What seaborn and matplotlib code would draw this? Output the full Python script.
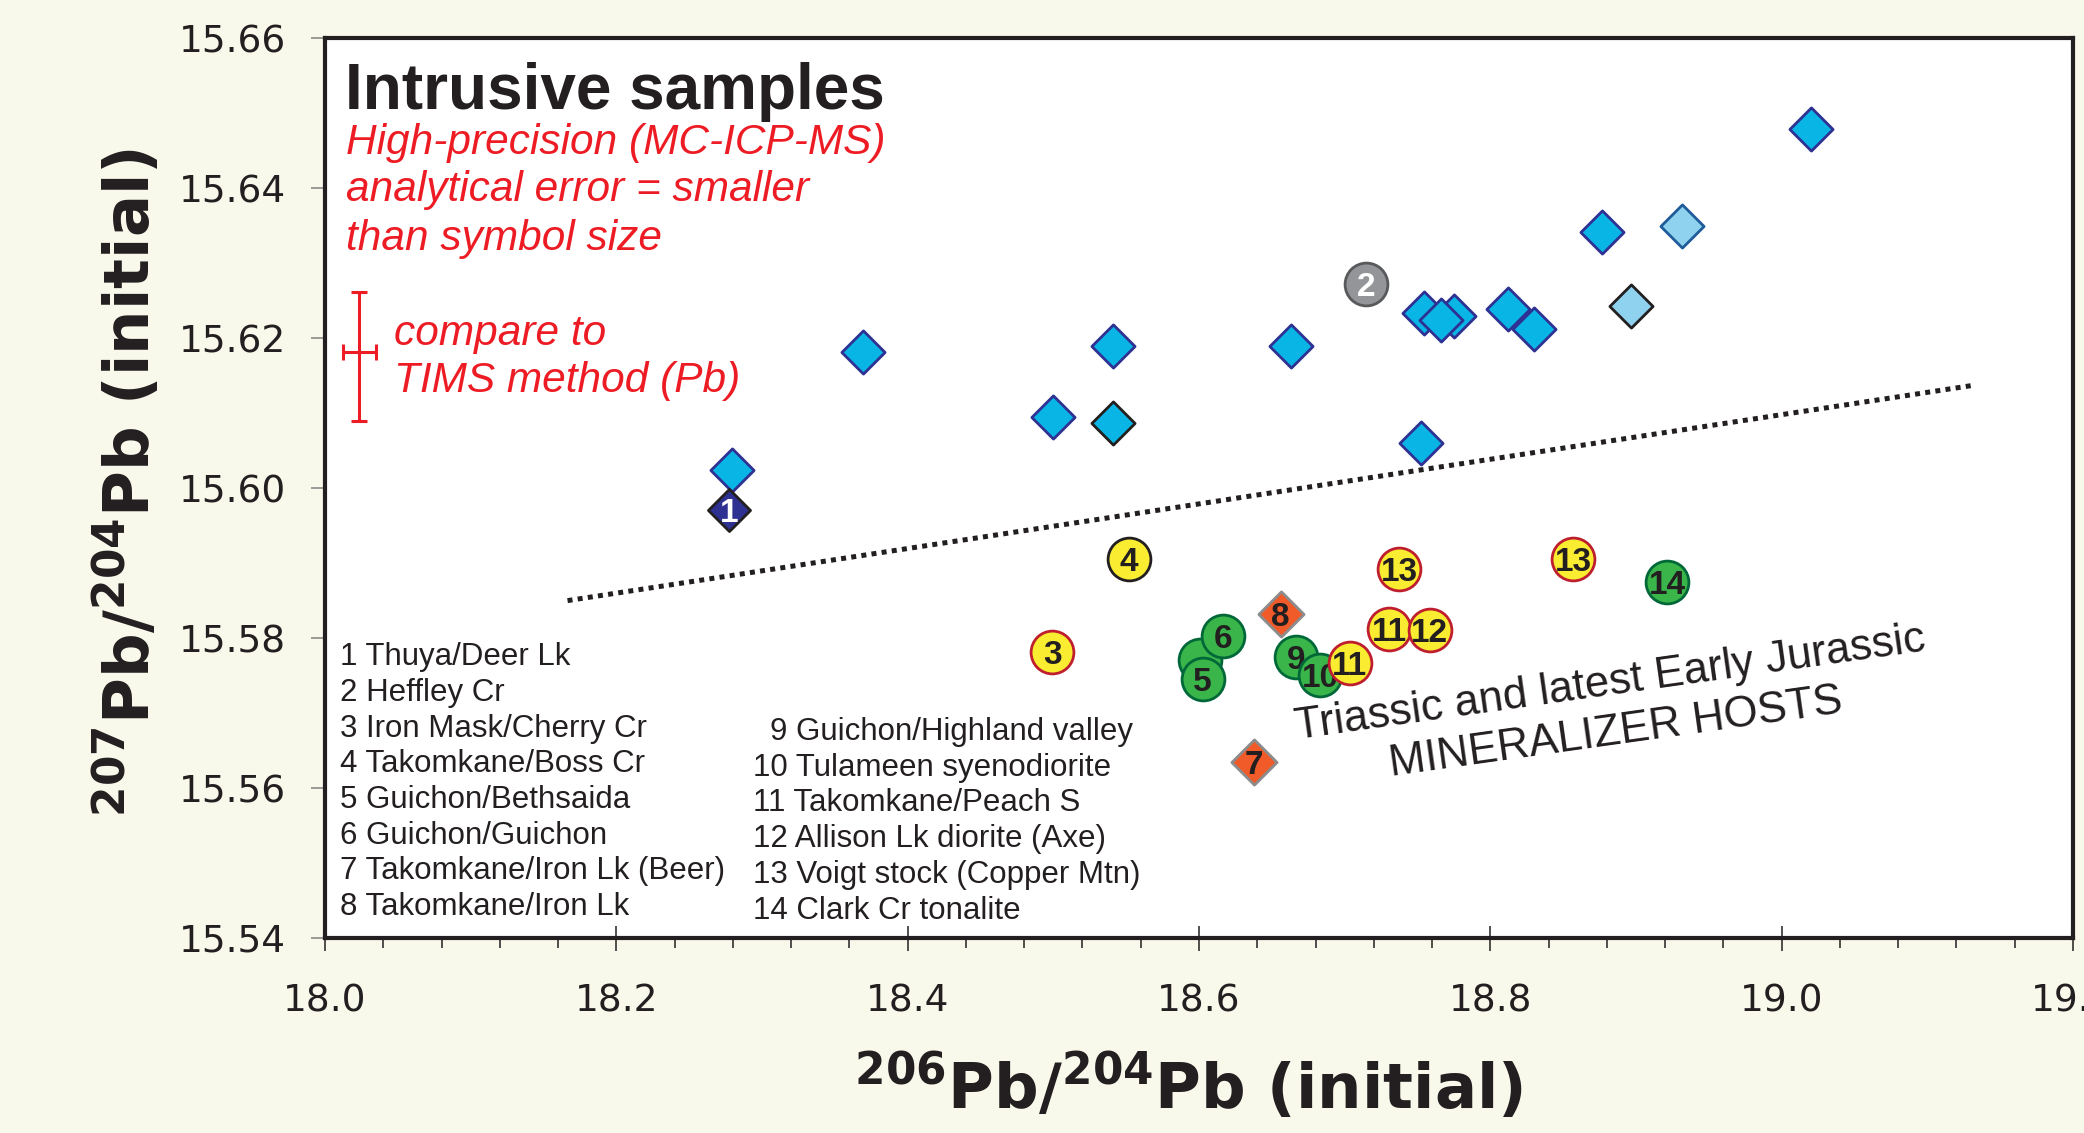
import matplotlib
matplotlib.use("Agg")
import matplotlib.pyplot as plt
import matplotlib.ticker as mticker
import seaborn as sns
import pandas as pd

# ---------------- data ----------------
x_ticks = [18.0, 18.2, 18.4, 18.6, 18.8, 19.0, 19.2]
x_tick_labels = ["18.0", "18.2", "18.4", "18.6", "18.8", "19.0", "19.2"]
y_ticks = [15.54, 15.56, 15.58, 15.60, 15.62, 15.64, 15.66]
y_tick_labels = ["15.54", "15.56", "15.58", "15.60", "15.62", "15.64", "15.66"]

# unlabeled high-precision samples (blue diamonds, dark-blue edge)
blue_x = [18.2794, 18.3690, 18.5000, 18.5412, 18.6629, 18.7522, 18.7542,
          18.7751, 18.7662, 18.8118, 18.8302, 18.8764, 19.0198]
blue_y = [15.6024, 15.6181, 15.6095, 15.6190, 15.6190, 15.6060, 15.6234,
          15.6230, 15.6224, 15.6239, 15.6212, 15.6341, 15.6479]
# blue diamond with black edge
blue_black_x = [18.5410]
blue_black_y = [15.6087]
# light-blue diamonds
light_blue_x = [18.9315]
light_blue_y = [15.6350]
light_black_x = [18.8968]
light_black_y = [15.6243]

# numbered samples (drawn in this order; the second "5" is hidden behind)
num_labels = ["1", "2", "3", "4", "", "5", "6", "8", "9", "10", "11",
              "7", "13", "11", "12", "13", "14"]
num_group = ["thuya", "heffley", "ironmask", "boss", "guichon", "guichon",
             "guichon", "ironlk", "guichon", "tulameen", "peach",
             "ironlk", "voigt", "peach", "allison", "voigt", "clark"]
num_x = [18.2771, 18.7146, 18.4993, 18.5517, 18.6010, 18.6025, 18.6163,
         18.6561, 18.6668, 18.6833, 18.7034, 18.6376, 18.7376, 18.7306,
         18.7585, 18.8569, 18.9216]
num_y = [15.5971, 15.6272, 15.5781, 15.5906, 15.5771, 15.5745, 15.5803,
         15.5832, 15.5775, 15.5751, 15.5767, 15.5635, 15.5892, 15.5812,
         15.5811, 15.5905, 15.5875]

# dividing (dotted) line
trend_x = [18.1665, 19.1310]
trend_y = [15.5850, 15.6137]

# TIMS error bar reference
tims_x = [18.0236]
tims_y = [15.6181]
tims_xerr = [0.0112]
tims_yerr_low = [0.0092]
tims_yerr_high = [0.0081]

title_text = "Intrusive samples"
note_lines = ["High-precision (MC-ICP-MS)", "analytical error = smaller",
              "than symbol size"]
compare_lines = ["compare to", "TIMS method (Pb)"]
host_lines = ["Triassic and latest Early Jurassic", "MINERALIZER HOSTS"]
legend_col1 = ["1 Thuya/Deer Lk", "2 Heffley Cr", "3 Iron Mask/Cherry Cr",
               "4 Takomkane/Boss Cr", "5 Guichon/Bethsaida",
               "6 Guichon/Guichon", "7 Takomkane/Iron Lk (Beer)",
               "8 Takomkane/Iron Lk"]
legend_col2 = ["9 Guichon/Highland valley", "10 Tulameen syenodiorite",
               "11 Takomkane/Peach S", "12 Allison Lk diorite (Axe)",
               "13 Voigt stock (Copper Mtn)", "14 Clark Cr tonalite"]
xlabel_text = r"$^{\mathbf{206}}$Pb/$^{\mathbf{204}}$Pb (initial)"
ylabel_text = r"$^{\mathbf{207}}$Pb/$^{\mathbf{204}}$Pb (initial)"

# ---------------- style ----------------
sns.set_style("ticks")
plt.rcParams["font.family"] = ["DejaVu Sans"]
plt.rcParams["mathtext.fontset"] = "dejavusans"

BG = "#F8F8EB"
INK = "#231F20"
RED = "#ED1C24"
BLUE = "#08B5E5"
DARKBLUE = "#2E3192"
LIGHTBLUE = "#8FD2F0"
YELLOW = "#F9EC31"
GREEN = "#39B54A"
ORANGE = "#F15A29"
HELV = ["Liberation Sans", "DejaVu Sans"]

styles = {
    "thuya":   dict(marker="D", s=460, fill=DARKBLUE, edge=INK, txt="white"),
    "heffley": dict(marker="o", s=950, fill="#939598", edge="#58595B", txt="white"),
    "ironmask": dict(marker="o", s=950, fill=YELLOW, edge="#BE1E2D", txt=INK),
    "boss":    dict(marker="o", s=950, fill=YELLOW, edge=INK, txt=INK),
    "guichon": dict(marker="o", s=950, fill=GREEN, edge="#006838", txt=INK),
    "tulameen": dict(marker="o", s=950, fill=GREEN, edge="#006838", txt=INK),
    "clark":   dict(marker="o", s=950, fill=GREEN, edge="#006838", txt=INK),
    "ironlk":  dict(marker="D", s=530, fill=ORANGE, edge="#8C8C8C", txt=INK),
    "peach":   dict(marker="o", s=950, fill=YELLOW, edge="#BE1E2D", txt=INK),
    "allison": dict(marker="o", s=950, fill=YELLOW, edge="#BE1E2D", txt=INK),
    "voigt":   dict(marker="o", s=950, fill=YELLOW, edge="#BE1E2D", txt=INK),
}

fig = plt.figure(figsize=(20.84, 11.33), dpi=100, facecolor=BG)
ax = fig.add_axes([0.15595, 0.17211, 0.83877, 0.79409])
ax.set_facecolor("white")

# dotted dividing line
ax.plot(trend_x, trend_y, color=INK, lw=3.6, linestyle=(0, (1.0, 1.05)),
        dash_capstyle="butt", zorder=2)

# blue diamonds
sns.scatterplot(x=blue_x, y=blue_y, marker="D", s=484, color=BLUE,
                edgecolor=DARKBLUE, linewidth=2.0, ax=ax, zorder=3, legend=False)
sns.scatterplot(x=blue_black_x, y=blue_black_y, marker="D", s=484, color=BLUE,
                edgecolor=INK, linewidth=2.0, ax=ax, zorder=3, legend=False)
sns.scatterplot(x=light_blue_x, y=light_blue_y, marker="D", s=484, color=LIGHTBLUE,
                edgecolor="#1F5C99", linewidth=2.0, ax=ax, zorder=3, legend=False)
sns.scatterplot(x=light_black_x, y=light_black_y, marker="D", s=484, color=LIGHTBLUE,
                edgecolor=INK, linewidth=2.0, ax=ax, zorder=3, legend=False)

# numbered markers
num_df = pd.DataFrame({"x": num_x, "y": num_y, "label": num_labels, "group": num_group})
for i, row in num_df.iterrows():
    st = styles[row["group"]]
    z = 4 + i * 0.1
    sns.scatterplot(x=[row["x"]], y=[row["y"]], marker=st["marker"], s=st["s"],
                    color=st["fill"], edgecolor=st["edge"], linewidth=2.0,
                    ax=ax, zorder=z, legend=False)
    if row["label"]:
        ax.text(row["x"], row["y"], row["label"], ha="center", va="center_baseline",
                fontsize=24, fontweight="bold", family=HELV, color=st["txt"],
                zorder=z + 0.05)

# TIMS error bar
ax.errorbar(tims_x, tims_y, xerr=tims_xerr, yerr=[tims_yerr_low, tims_yerr_high],
            fmt="none", ecolor=RED, elinewidth=2.2, capsize=5.5, capthick=2.2,
            zorder=3)

# axes
ax.set_xlim(18.0, 19.2)
ax.set_ylim(15.54, 15.66)
ax.set_xticks(x_ticks)
ax.set_xticklabels(x_tick_labels)
ax.xaxis.set_minor_locator(mticker.MultipleLocator(0.04))
ax.set_yticks(y_ticks)
ax.set_yticklabels(y_tick_labels)
ax.tick_params(axis="x", which="major", direction="inout", length=18, width=1.1,
               color=INK, pad=24, labelsize=27, labelcolor=INK)
ax.tick_params(axis="x", which="minor", direction="out", length=7.2, width=1.1,
               color=INK)
ax.tick_params(axis="y", which="major", direction="out", length=10, width=1.1,
               color="#808080", pad=18, labelsize=27, labelcolor=INK)
ax.tick_params(axis="y", which="minor", left=False)
for sp in ax.spines.values():
    sp.set_linewidth(3.0)
    sp.set_color(INK)
    sp.set_visible(True)
    sp.set_zorder(10)

ax.set_xlabel(xlabel_text, fontsize=45, fontweight="bold", color=INK)
ax.xaxis.set_label_coords(0.494, -0.1644)
ax.xaxis.label.set_va("center")
ax.set_ylabel(ylabel_text, fontsize=45, fontweight="bold", color=INK)
ax.yaxis.set_label_coords(-0.1133, 0.506)
ax.yaxis.label.set_va("center")

# texts
ax.text(0.0112, 0.9211, title_text, transform=ax.transAxes, fontsize=46,
        fontweight="bold", family=HELV, color=INK, va="baseline", ha="left")
for k, line in enumerate(note_lines):
    ax.text(0.012, [0.8711, 0.8192, 0.7644][k], line, transform=ax.transAxes,
            fontsize=30.5, style="italic", family=HELV, color=RED,
            va="baseline", ha="left")
for k, line in enumerate(compare_lines):
    ax.text(0.0393, [0.6589, 0.6070][k], line, transform=ax.transAxes,
            fontsize=30.5, style="italic", family=HELV, color=RED,
            va="baseline", ha="left")

ax.text(18.8832, 15.5725, host_lines[0], rotation=8, rotation_mode="anchor",
        ha="center", va="baseline", fontsize=31.5, family=HELV, color=INK, zorder=3)
ax.text(18.8873, 15.5659, host_lines[1], rotation=8, rotation_mode="anchor",
        ha="center", va="baseline", fontsize=31.5, family=HELV, color=INK, zorder=3)

for k, line in enumerate(legend_col1):
    ax.text(0.0086, 0.3033 - k * 0.03967, line, transform=ax.transAxes,
            fontsize=22.5, family=HELV, color=INK, va="baseline", ha="left")
for k, line in enumerate(legend_col2):
    xk = 0.2543 if k == 0 else 0.2451
    ax.text(xk, 0.2200 - k * 0.03967, line, transform=ax.transAxes,
            fontsize=22.5, family=HELV, color=INK, va="baseline", ha="left")

fig.savefig("out.png", dpi=100, facecolor=BG)
